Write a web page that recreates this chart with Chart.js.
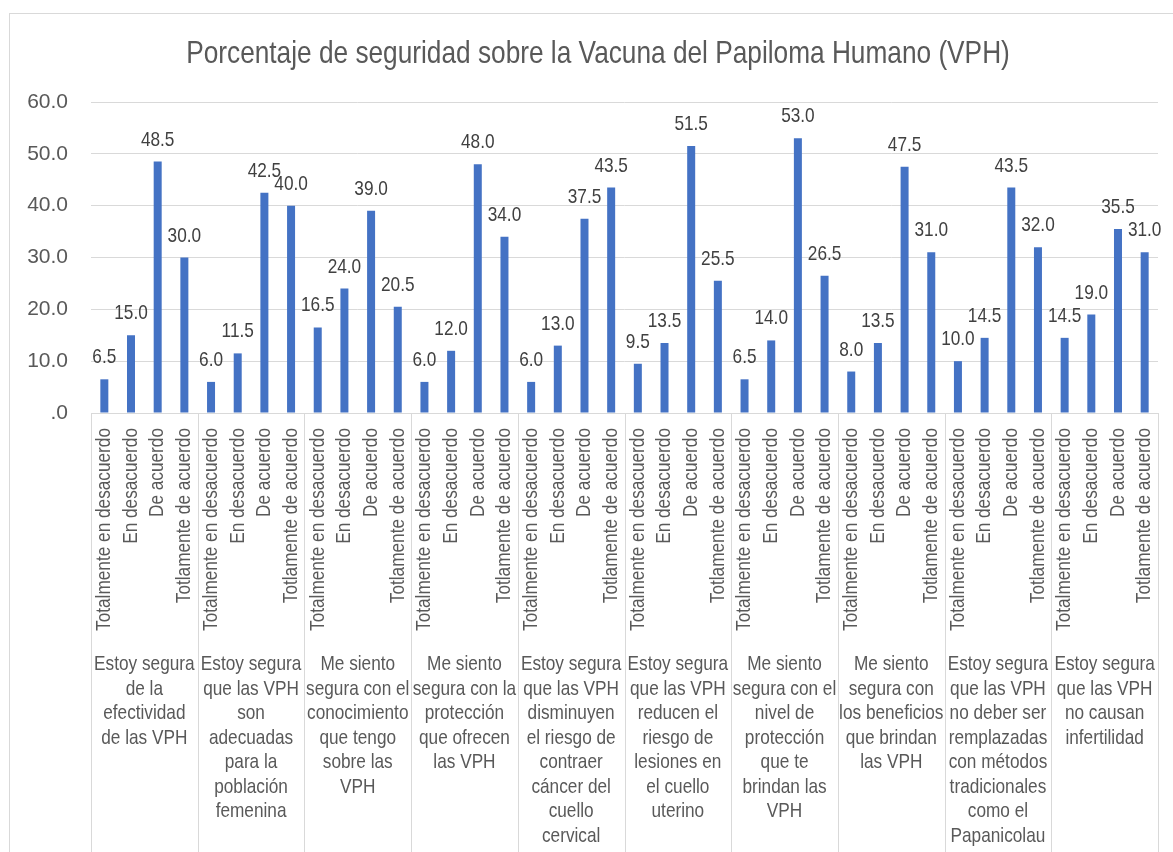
<!DOCTYPE html>
<html>
<head>
<meta charset="utf-8">
<script src="https://cdn.jsdelivr.net/npm/chart.js@4/dist/chart.umd.min.js"></script>
<style>
  html, body { margin: 0; padding: 0; background: #ffffff; }
  canvas { display: block; }
</style>
</head>
<body>
<canvas id="c" width="1173" height="852"></canvas>
<script>
// ---- Data ----
const responses = ['Totalmente en desacuerdo', 'En desacuerdo', 'De acuerdo', 'Totlamente de acuerdo'];
const groupLabels = [
  ['Estoy segura', 'de la', 'efectividad', 'de las VPH'],
  ['Estoy segura', 'que las VPH', 'son', 'adecuadas', 'para la', 'población', 'femenina'],
  ['Me siento', 'segura con el', 'conocimiento', 'que tengo', 'sobre las', 'VPH'],
  ['Me siento', 'segura con la', 'protección', 'que ofrecen', 'las VPH'],
  ['Estoy segura', 'que las VPH', 'disminuyen', 'el riesgo de', 'contraer', 'cáncer del', 'cuello', 'cervical'],
  ['Estoy segura', 'que las VPH', 'reducen el', 'riesgo de', 'lesiones en', 'el cuello', 'uterino'],
  ['Me siento', 'segura con el', 'nivel de', 'protección', 'que te', 'brindan las', 'VPH'],
  ['Me siento', 'segura con', 'los beneficios', 'que brindan', 'las VPH'],
  ['Estoy segura', 'que las VPH', 'no deber ser', 'remplazadas', 'con métodos', 'tradicionales', 'como el', 'Papanicolau'],
  ['Estoy segura', 'que las VPH', 'no causan', 'infertilidad']
];
const totalmenteDesacuerdo = [6.5, 6.0, 16.5, 6.0, 6.0, 9.5, 6.5, 8.0, 10.0, 14.5];
const enDesacuerdo        = [15.0, 11.5, 24.0, 12.0, 13.0, 13.5, 14.0, 13.5, 14.5, 19.0];
const deAcuerdo           = [48.5, 42.5, 39.0, 48.0, 37.5, 51.5, 53.0, 47.5, 43.5, 35.5];
const totalmenteAcuerdo   = [30.0, 40.0, 20.5, 34.0, 43.5, 25.5, 26.5, 31.0, 32.0, 31.0];
const yTickValues = [0, 10, 20, 30, 40, 50, 60];
const yTickLabels = ['.0', '10.0', '20.0', '30.0', '40.0', '50.0', '60.0'];
const titleText = 'Porcentaje de seguridad sobre la Vacuna del Papiloma Humano (VPH)';

// ---- Build flat category table ----
const seriesByResponse = [totalmenteDesacuerdo, enDesacuerdo, deAcuerdo, totalmenteAcuerdo];
const labels = [];
const values = [];
for (let g = 0; g < groupLabels.length; g++) {
  for (let r = 0; r < responses.length; r++) {
    labels.push(responses[r]);
    values.push(seriesByResponse[r][g]);
  }
}

const SANS = "'Liberation Sans', Arial, sans-serif";
const NARROW_SCALE = 0.82; // emulate Arial Narrow
const TEXT_GREY = '#595959';

function narrowText(ctx, text, x, y, align) {
  ctx.save();
  ctx.translate(x, y);
  ctx.scale(NARROW_SCALE, 1);
  ctx.textAlign = align || 'center';
  ctx.fillText(text, 0, 0);
  ctx.restore();
}

const borderPlugin = {
  id: 'outerBorder',
  beforeDraw(chart) {
    const ctx = chart.ctx;
    ctx.save();
    ctx.fillStyle = '#ffffff';
    ctx.fillRect(0, 0, chart.width, chart.height);
    ctx.strokeStyle = '#D9D9D9';
    ctx.lineWidth = 1;
    ctx.strokeRect(9.5, 13.5, chart.width + 20, chart.height + 20);
    // title
    ctx.font = '32px ' + SANS;
    ctx.fillStyle = TEXT_GREY;
    ctx.textBaseline = 'alphabetic';
    narrowText(ctx, titleText, 598, 63, 'center');
    ctx.restore();
  }
};

const dataLabelPlugin = {
  id: 'dataLabels',
  afterDatasetsDraw(chart) {
    const ctx = chart.ctx;
    const meta = chart.getDatasetMeta(0);
    ctx.save();
    ctx.font = '21px ' + SANS;
    ctx.fillStyle = '#404040';
    ctx.textBaseline = 'alphabetic';
    meta.data.forEach((bar, i) => {
      narrowText(ctx, values[i].toFixed(1), bar.x, bar.y - 16, 'center');
    });
    ctx.restore();
  }
};

const categoryAxisPlugin = {
  id: 'categoryAxis',
  afterDraw(chart) {
    const ctx = chart.ctx;
    const xs = chart.scales.x;
    const n = groupLabels.length;
    const top = chart.chartArea.bottom;
    const bottom = chart.height;
    const step = xs.width / n;
    ctx.save();
    // separators
    ctx.strokeStyle = '#D9D9D9';
    ctx.lineWidth = 1;
    for (let i = 0; i <= n; i++) {
      const px = Math.round(xs.left + i * step) + 0.5;
      ctx.beginPath();
      ctx.moveTo(px, top);
      ctx.lineTo(px, bottom);
      ctx.stroke();
    }
    ctx.font = '21px ' + SANS;
    ctx.fillStyle = TEXT_GREY;
    // rotated response labels
    labels.forEach((lab, i) => {
      const x = xs.getPixelForValue(i);
      ctx.save();
      ctx.translate(x, top + 15);
      ctx.rotate(-Math.PI / 2);
      ctx.scale(NARROW_SCALE, 1);
      ctx.textAlign = 'right';
      ctx.textBaseline = 'middle';
      ctx.fillText(lab, 0, 0);
      ctx.restore();
    });
    // group labels
    ctx.textBaseline = 'alphabetic';
    for (let i = 0; i < n; i++) {
      const cx = xs.left + (i + 0.5) * step;
      groupLabels[i].forEach((line, k) => {
        narrowText(ctx, line, cx, 670 + k * 24.5, 'center');
      });
    }
    ctx.restore();
  }
};

new Chart(document.getElementById('c'), {
  type: 'bar',
  data: {
    labels: labels,
    datasets: [{
      data: values,
      backgroundColor: '#4472C4',
      borderWidth: 0,
      categoryPercentage: 1.0,
      barPercentage: 0.3
    }]
  },
  options: {
    responsive: false,
    animation: false,
    layout: { padding: { left: 0, right: 15, top: 102, bottom: 0 } },
    plugins: {
      legend: { display: false },
      tooltip: { enabled: false },
      title: { display: false }
    },
    scales: {
      x: {
        type: 'category',
        offset: true,
        grid: { display: false, drawTicks: false },
        border: { display: true, color: '#D9D9D9', width: 1 },
        ticks: { display: false, autoSkip: false },
        afterFit(scale) { scale.height = 439; }
      },
      y: {
        min: 0,
        max: 60,
        afterBuildTicks(scale) { scale.ticks = yTickValues.map(v => ({ value: v })); },
        grid: { color: '#D9D9D9', drawTicks: false },
        border: { display: false },
        ticks: {
          padding: 23,
          color: TEXT_GREY,
          font: { family: SANS, size: 21 },
          callback(value) {
            const idx = yTickValues.indexOf(value);
            return idx >= 0 ? yTickLabels[idx] : '';
          }
        },
        afterFit(scale) { scale.width = 91; }
      }
    }
  },
  plugins: [borderPlugin, dataLabelPlugin, categoryAxisPlugin]
});
</script>
</body>
</html>
